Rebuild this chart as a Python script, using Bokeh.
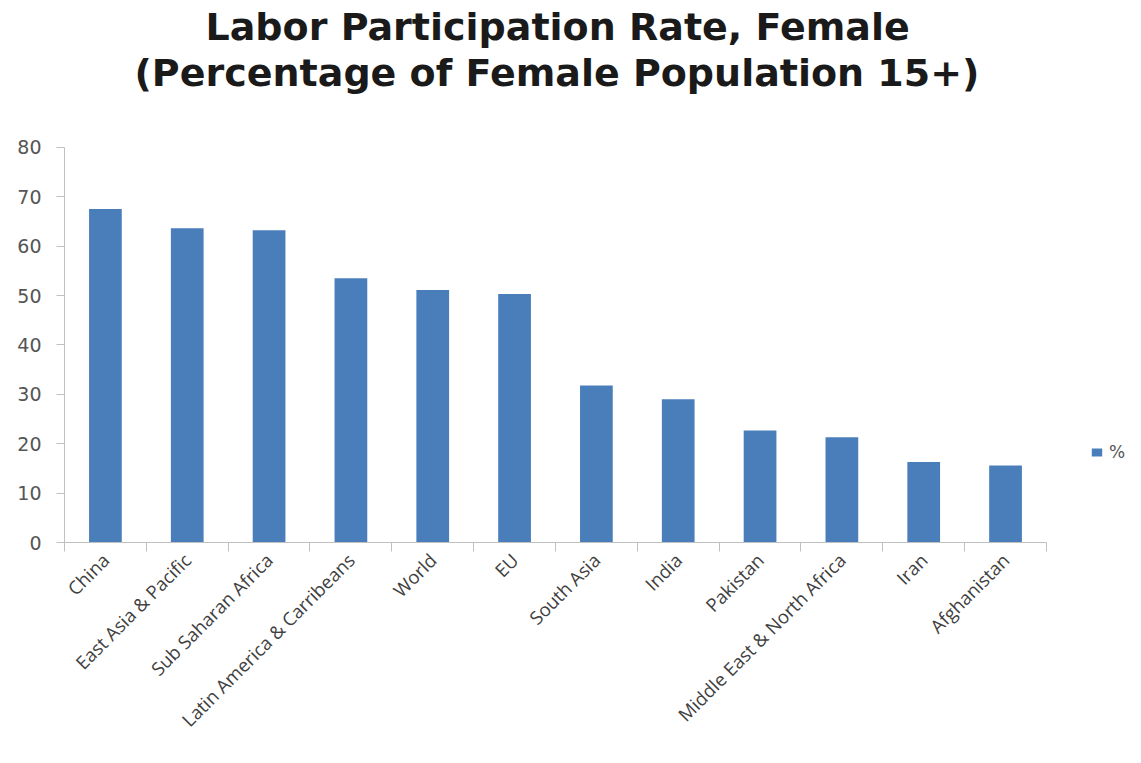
import math
from bokeh.plotting import figure
from bokeh.models import Range1d, FixedTicker, LinearAxis, Title, Legend, LegendItem, ColumnDataSource
from bokeh.embed import file_html
from bokeh.resources import INLINE

categories = ["China", "East Asia & Pacific", "Sub Saharan Africa", "Latin America & Carribeans",
              "World", "EU", "South Asia", "India", "Pakistan", "Middle East & North Africa",
              "Iran", "Afghanistan"]
values = [67.5, 63.6, 63.2, 53.5, 51.1, 50.3, 31.8, 29.0, 22.7, 21.3, 16.3, 15.6]
y_ticks = [0, 10, 20, 30, 40, 50, 60, 70, 80]
series_name = "%"

n = len(categories)
xs = list(range(n))
src = ColumnDataSource(dict(x=xs, top=values, cat=categories))

# frame extends past the last category (room for the legend) and above 80 (gap under the title)
p = figure(width=1125, height=747, output_backend="svg", toolbar_location=None,
           x_range=Range1d(-0.5, n - 0.5 + 0.966), y_range=Range1d(0, 90.7),
           x_axis_type=None, y_axis_type=None,
           min_border_left=64, min_border_right=0, min_border_top=94, min_border_bottom=205)
p.outline_line_color = None
p.xgrid.visible = False
p.ygrid.visible = False

bars = p.vbar(x="x", top="top", width=0.4, bottom=0, source=src,
              fill_color="#4a7ebb", line_color=None)

yax = LinearAxis(ticker=FixedTicker(ticks=y_ticks, minor_ticks=[]), bounds=(0, 80))
yax.axis_line_color = "#c0c0c0"
yax.major_tick_line_color = "#c0c0c0"
yax.major_tick_out = 8
yax.major_tick_in = 0
yax.major_label_text_font = "DejaVu Sans"
yax.major_label_text_font_size = "19px"
yax.major_label_text_color = "#555555"
yax.major_label_standoff = 15
p.add_layout(yax, "left")

xax = LinearAxis(ticker=FixedTicker(ticks=xs, minor_ticks=[i - 0.5 for i in range(n + 1)]),
                 bounds=(-0.5, n - 0.5))
xax.major_label_overrides = {i: c for i, c in enumerate(categories)}
xax.axis_line_color = "#c0c0c0"
xax.major_tick_line_color = None
xax.minor_tick_line_color = "#c0c0c0"
xax.minor_tick_out = 9
xax.minor_tick_in = 0
xax.major_label_orientation = math.pi / 4
xax.major_label_text_font = "Open Sans"
xax.major_label_text_font_size = "18.5px"
xax.major_label_text_color = "#404040"
xax.major_label_standoff = 5
p.add_layout(xax, "below")

t2 = Title(text="(Percentage of Female Population 15+)", align="left", standoff=0, offset=70,
           text_font="DejaVu Sans", text_font_style="bold", text_font_size="38px", text_color="#1a1a1a")
t1 = Title(text="Labor Participation Rate, Female", align="left", standoff=0, offset=141,
           text_font="DejaVu Sans", text_font_style="bold", text_font_size="38px", text_color="#1a1a1a")
p.add_layout(t2, "above")
p.add_layout(t1, "above")

legend = Legend(items=[LegendItem(label=series_name, renderers=[bars])],
                location=(1026, 80), border_line_color=None, background_fill_alpha=0,
                margin=0, padding=4,
                label_text_font="DejaVu Sans", label_text_font_size="17px", label_text_color="#555555",
                glyph_width=13, glyph_height=10, label_standoff=6)
p.add_layout(legend)

open("out.html", "w").write(file_html(p, INLINE))
